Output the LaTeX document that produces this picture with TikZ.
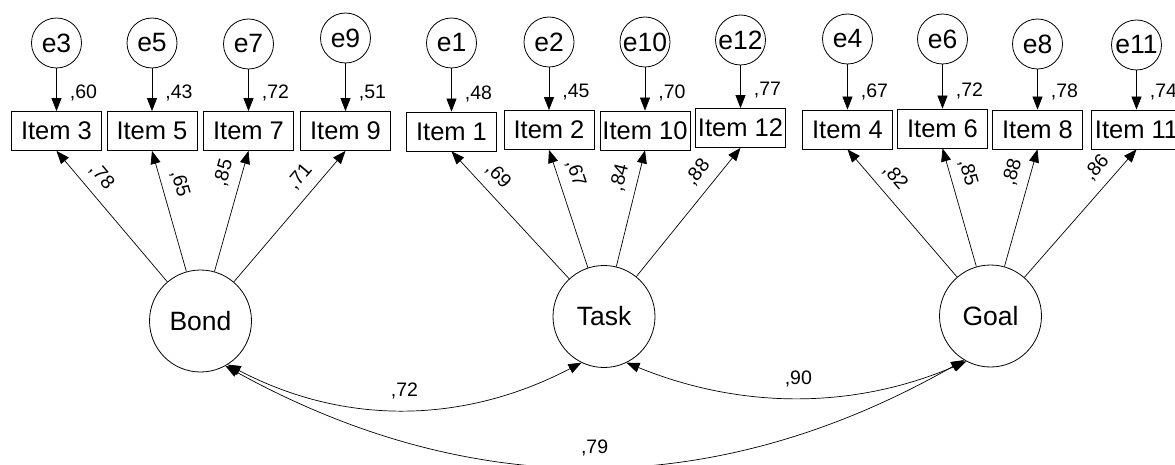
\documentclass[tikz,border=0pt]{standalone}
\usepackage{fontspec}
\setmainfont{Liberation Sans}
\usetikzlibrary{arrows.meta}
\begin{document}
\begin{tikzpicture}[x=1pt,y=-1pt,
  every node/.style={inner sep=0pt},
  item/.style={draw, line width=0.8pt, minimum width=90pt, minimum height=39pt, font=\fontsize{25.5}{28}\selectfont},
  err/.style={draw, circle, line width=0.8pt, minimum size=50pt, font=\fontsize{26.5}{29}\selectfont},
  latent/.style={draw, circle, line width=0.8pt, minimum size=102pt, font=\fontsize{26.5}{29}\selectfont},
  arr/.style={line width=0.7pt, -{Triangle[length=13pt,width=10pt]}},
  cov/.style={line width=0.7pt, {Triangle[length=13pt,width=10pt]}-{Triangle[length=13pt,width=10pt]}},
  num/.style={font=\fontsize{19.5}{22}\selectfont, inner sep=1pt},
  reslab/.style={num, anchor=west, xshift=12pt, yshift=18pt},
  loadlab/.style={num, sloped, above=8.5pt},
  covlab/.style={num, above=9.5pt},
]
\fill[white] (0,0) rectangle (1175,465);
\useasboundingbox (0,0) rectangle (1175,465);

% latent variables
\node[latent] (bond) at (200.5,321) {Bond};
\node[latent] (task) at (604,316.5) {Task};
\node[latent] (goal) at (990.5,316) {Goal};

% items
\node[item] (i3)  at (56.5,131)   {Item 3};
\node[item] (i5)  at (152,131)    {Item 5};
\node[item] (i7)  at (248.5,131)  {Item 7};
\node[item] (i9)  at (345.5,131)  {Item 9};
\node[item] (i1)  at (451.5,131.5){Item 1};
\node[item] (i2)  at (549,130)    {Item 2};
\node[item] (i10) at (645,130.5)  {Item 10};
\node[item] (i12) at (740.5,128)  {Item 12};
\node[item] (i4)  at (847.5,129.5){Item 4};
\node[item] (i6)  at (942.5,128.5){Item 6};
\node[item] (i8)  at (1037.5,129.5){Item 8};
\node[item] (i11) at (1136.5,129.5){Item 11};

% errors
\node[err] (e3)  at (56.5,43)  {e3};
\node[err] (e5)  at (152,43)   {e5};
\node[err] (e7)  at (248.5,44) {e7};
\node[err] (e9)  at (345.5,38) {e9};
\node[err] (e1)  at (451.5,43) {e1};
\node[err] (e2)  at (549,42)   {e2};
\node[err] (e10) at (645,42)   {e10};
\node[err] (e12) at (740.5,40) {e12};
\node[err] (e4)  at (847.5,39) {e4};
\node[err] (e6)  at (942.5,39) {e6};
\node[err] (e8)  at (1037.5,44){e8};
\node[err] (e11) at (1136.5,45){e11};

% residual arrows
\draw[arr] (e3)  -- (i3)  node[reslab,pos=1] {,60};
\draw[arr] (e5)  -- (i5)  node[reslab,pos=1] {,43};
\draw[arr] (e7)  -- (i7)  node[reslab,pos=1] {,72};
\draw[arr] (e9)  -- (i9)  node[reslab,pos=1] {,51};
\draw[arr] (e1)  -- (i1)  node[reslab,pos=1] {,48};
\draw[arr] (e2)  -- (i2)  node[reslab,pos=1] {,45};
\draw[arr] (e10) -- (i10) node[reslab,pos=1] {,70};
\draw[arr] (e12) -- (i12) node[reslab,pos=1] {,77};
\draw[arr] (e4)  -- (i4)  node[reslab,pos=1] {,67};
\draw[arr] (e6)  -- (i6)  node[reslab,pos=1] {,72};
\draw[arr] (e8)  -- (i8)  node[reslab,pos=1] {,78};
\draw[arr] (e11) -- (i11) node[reslab,pos=1] {,74};

% loadings
\draw[arr] (bond) -- (i3.south) node[loadlab,pos=0.716] {,78};
\draw[arr] (bond) -- (i5.south) node[loadlab,pos=0.687] {,65};
\draw[arr] (bond) -- (i7.south) node[loadlab,pos=0.776] {,85};
\draw[arr] (bond) -- (i9.south) node[loadlab,pos=0.713] {,71};
\draw[arr] (task) -- (i1.south) node[loadlab,pos=0.715] {,69};
\draw[arr] (task) -- (i2.south) node[loadlab,pos=0.753] {,67};
\draw[arr] (task) -- (i10.south) node[loadlab,pos=0.729] {,84};
\draw[arr] (task) -- (i12.south) node[loadlab,pos=0.723] {,88};
\draw[arr] (goal) -- (i4.south) node[loadlab,pos=0.69] {,82};
\draw[arr] (goal) -- (i6.south) node[loadlab,pos=0.754] {,85};
\draw[arr] (goal) -- (i8.south) node[loadlab,pos=0.762] {,88};
\draw[arr] (goal) -- (i11.south) node[loadlab,pos=0.765] {,86};

% covariances
\draw[cov] (bond.-58) .. controls (345,426) and (464,424) .. (task.-116) node[covlab,pos=0.5] {,72};
\draw[cov] (task.-64) .. controls (743,410) and (855,409) .. (goal.-118) node[covlab,pos=0.5] {,90};
\draw[cov] (bond.-61) .. controls (472,502) and (717,501) .. (goal.-121) node[covlab,pos=0.5] {,79};
\end{tikzpicture}
\end{document}
